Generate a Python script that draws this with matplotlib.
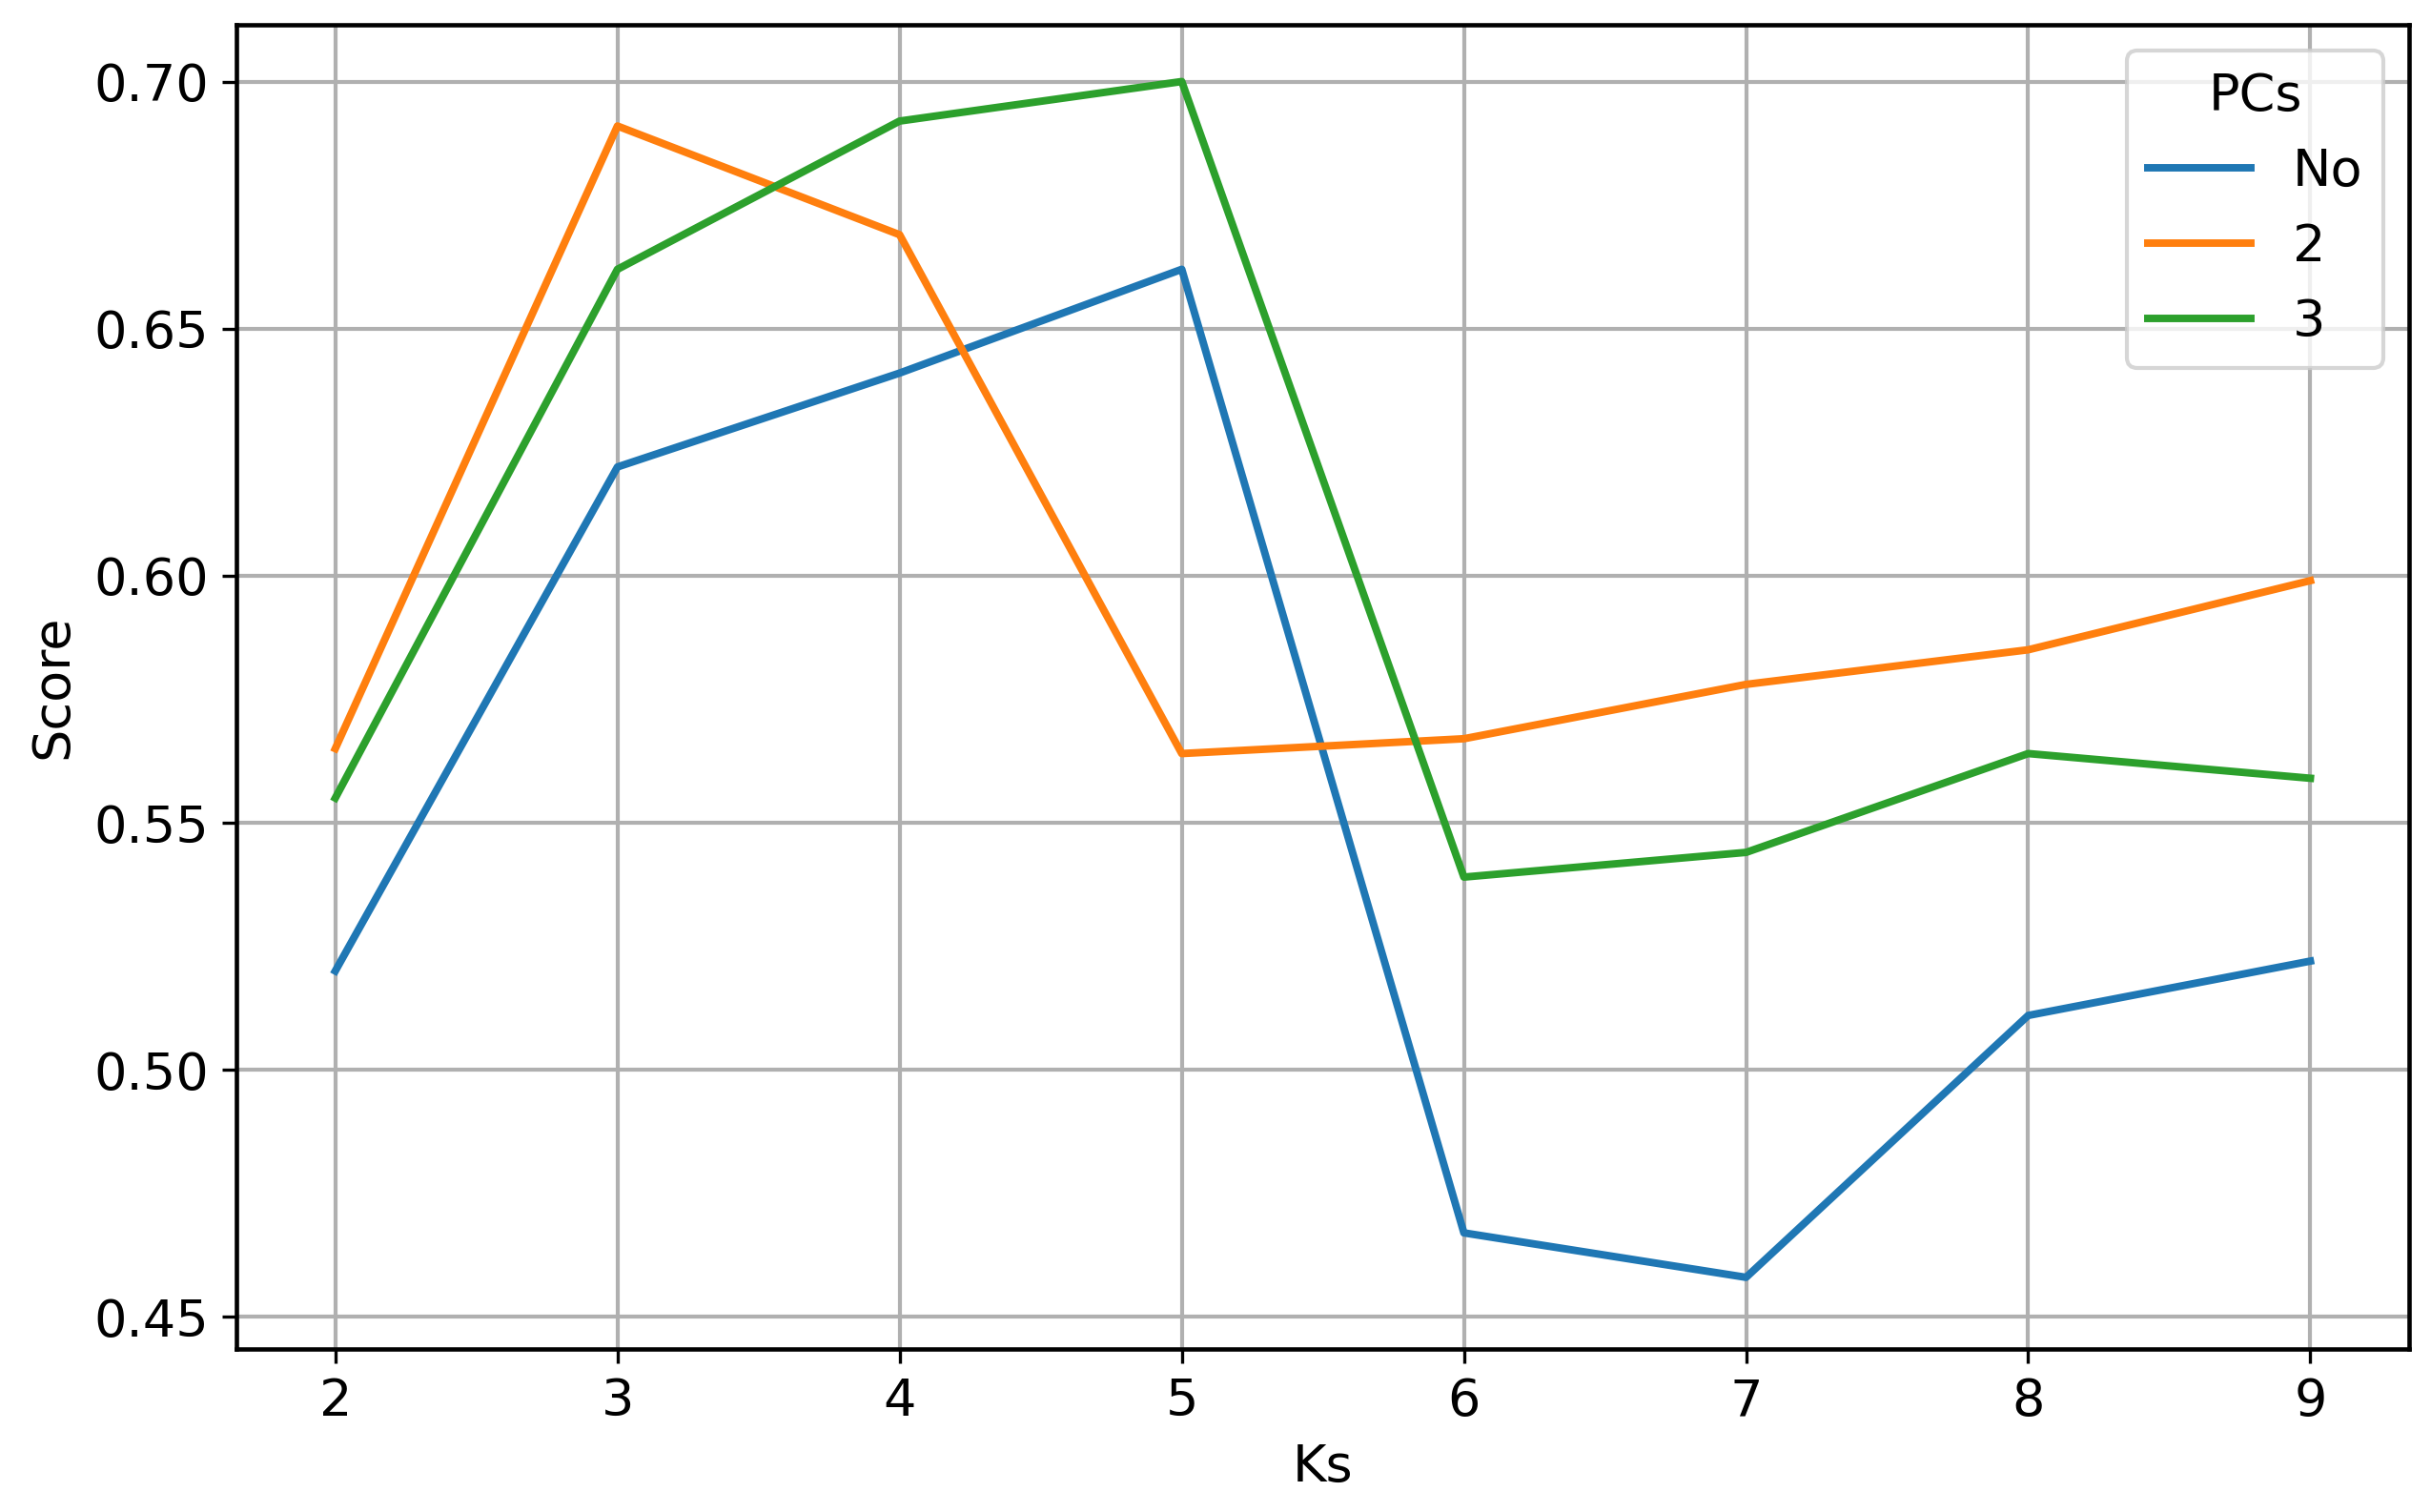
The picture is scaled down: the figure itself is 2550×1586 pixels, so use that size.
import matplotlib
matplotlib.use('Agg')
import matplotlib.pyplot as plt

ks = [2, 3, 4, 5, 6, 7, 8, 9]
score_no = [0.520, 0.622, 0.641, 0.662, 0.467, 0.458, 0.511, 0.522]
score_2 = [0.565, 0.691, 0.669, 0.564, 0.567, 0.578, 0.585, 0.599]
score_3 = [0.555, 0.662, 0.692, 0.700, 0.539, 0.544, 0.564, 0.559]
series_labels = ['No', '2', '3']

plt.rcParams['font.size'] = 13
plt.rcParams['lines.linewidth'] = 1.9
plt.rcParams['axes.linewidth'] = 1.1
plt.rcParams['grid.linewidth'] = 1.0

fig, ax = plt.subplots(figsize=(8.5, 5.287), dpi=300)
fig.subplots_adjust(left=0.0973, right=0.991, top=0.9836, bottom=0.1078)

for vals, lab in zip([score_no, score_2, score_3], series_labels):
    ax.plot(ks, vals, label=lab)

ax.set_xlabel('Ks')
ax.set_ylabel('Score')
ax.set_yticks([0.45, 0.50, 0.55, 0.60, 0.65, 0.70])
ax.set_ylim(0.4435, 0.7115)
ax.grid(True)
ax.legend(title='PCs', loc='upper right')

plt.savefig('out.png')
